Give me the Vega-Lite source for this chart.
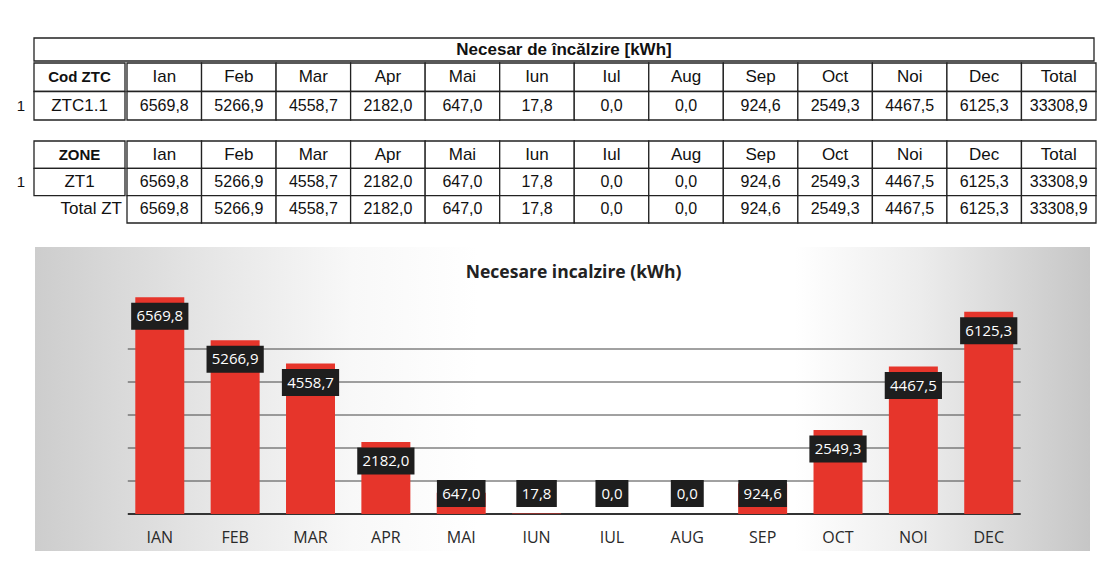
{
  "$schema": "https://vega.github.io/schema/vega-lite/v6.json",
  "padding": {"left": 9, "top": 37, "right": 16, "bottom": 17},
  "background": "white",
  "config": {
    "view": {"stroke": null},
    "locale": {"number": {"decimal": ",", "thousands": ".", "grouping": [3], "currency": ["", ""]}},
    "text": {"font": "Liberation Sans", "fontSize": 15, "color": "#111"}
  },
  "datasets": {
    "m": [
      {"k": "Ian", "v": 6569.8}, {"k": "Feb", "v": 5266.9}, {"k": "Mar", "v": 4558.7},
      {"k": "Apr", "v": 2182.0}, {"k": "Mai", "v": 647.0}, {"k": "Iun", "v": 17.8},
      {"k": "Iul", "v": 0.0}, {"k": "Aug", "v": 0.0}, {"k": "Sep", "v": 924.6},
      {"k": "Oct", "v": 2549.3}, {"k": "Noi", "v": 4467.5}, {"k": "Dec", "v": 6125.3},
      {"k": "Total", "v": 33308.9}
    ],
    "grid": [{"g": 1000}, {"g": 2000}, {"g": 3000}, {"g": 4000}, {"g": 5000}]
  },
  "spacing": 23,
  "vconcat": [
    {
      "spacing": 19,
      "vconcat": [
        {
          "spacing": 0,
          "vconcat": [
            {
              "spacing": 0,
              "hconcat": [
                {"width": 24, "height": 23, "data": {"values": []}, "mark": "point"},
                {
                  "width": 1060, "height": 23,
                  "data": {"values": [{"t": "Necesar de încălzire [kWh]"}]},
                  "encoding": {
                    "x": {"datum": "c", "type": "nominal", "scale": {"domain": ["c"], "paddingInner": 0, "paddingOuter": 0}, "axis": null},
                    "y": {"datum": "r", "type": "nominal", "scale": {"domain": ["r"], "paddingInner": 0, "paddingOuter": 0}, "axis": null}
                  },
                  "layer": [
                    {"mark": {"type": "rect", "fill": "white", "stroke": "#222", "strokeWidth": 1.3}},
                    {"mark": {"type": "text", "fontWeight": "bold", "fontSize": 17}, "encoding": {"text": {"field": "t"}}}
                  ]
                }
              ]
            },
            {
              "spacing": 0,
              "hconcat": [
                {
                  "width": 24, "height": 57,
                  "data": {"values": [{"n": "1"}]},
                  "mark": {"type": "text"},
                  "encoding": {
                    "x": {"datum": "c", "type": "nominal", "bandPosition": 0.75, "scale": {"domain": ["c"], "paddingInner": 0, "paddingOuter": 0}, "axis": null},
                    "y": {"datum": "d", "type": "nominal", "scale": {"domain": ["h", "d"], "paddingInner": 0, "paddingOuter": 0}, "axis": null},
                    "text": {"field": "n"}
                  }
                },
                {
                  "width": 91, "height": 57,
                  "data": {"values": [{"a": "Cod ZTC", "b": "ZTC1.1"}]},
                  "encoding": {
                    "x": {"datum": "c", "type": "nominal", "scale": {"domain": ["c"], "paddingInner": 0, "paddingOuter": 0}, "axis": null}
                  },
                  "layer": [
                    {"mark": {"type": "rect", "fill": "white", "stroke": "#222", "strokeWidth": 1.3},
                     "encoding": {"y": {"datum": "h", "type": "nominal", "scale": {"domain": ["h", "d"], "paddingInner": 0, "paddingOuter": 0}, "axis": null}}},
                    {"mark": {"type": "rect", "fill": "white", "stroke": "#222", "strokeWidth": 1.3},
                     "encoding": {"y": {"datum": "d", "type": "nominal", "axis": null}}},
                    {"mark": {"type": "text", "fontWeight": "bold"},
                     "encoding": {"y": {"datum": "h", "type": "nominal", "axis": null}, "text": {"field": "a"}}},
                    {"mark": {"type": "text", "fontSize": 17},
                     "encoding": {"y": {"datum": "d", "type": "nominal", "axis": null}, "text": {"field": "b"}}}
                  ]
                },
                {
                  "width": 969, "height": 57,
                  "data": {"name": "m"},
                  "encoding": {
                    "x": {"field": "k", "type": "nominal", "sort": null, "scale": {"paddingInner": 0, "paddingOuter": 0}, "axis": null}
                  },
                  "layer": [
                    {"mark": {"type": "rect", "fill": "white", "stroke": "#222", "strokeWidth": 1.3},
                     "encoding": {"y": {"datum": "h", "type": "nominal", "scale": {"domain": ["h", "d"], "paddingInner": 0, "paddingOuter": 0}, "axis": null}}},
                    {"mark": {"type": "rect", "fill": "white", "stroke": "#222", "strokeWidth": 1.3},
                     "encoding": {"y": {"datum": "d", "type": "nominal", "axis": null}}},
                    {"mark": {"type": "text", "fontSize": 17},
                     "encoding": {"y": {"datum": "h", "type": "nominal", "axis": null}, "text": {"field": "k"}}},
                    {"mark": {"type": "text", "fontSize": 16},
                     "encoding": {"y": {"datum": "d", "type": "nominal", "axis": null}, "text": {"field": "v", "type": "quantitative", "format": ".1f"}}}
                  ]
                }
              ]
            }
          ]
        },
        {
          "spacing": 0,
          "hconcat": [
            {
              "width": 24, "height": 82,
              "data": {"values": [{"n": "1"}]},
              "mark": {"type": "text"},
              "encoding": {
                "x": {"datum": "c", "type": "nominal", "bandPosition": 0.75, "scale": {"domain": ["c"], "paddingInner": 0, "paddingOuter": 0}, "axis": null},
                "y": {"datum": "z", "type": "nominal", "scale": {"domain": ["h", "z", "t"], "paddingInner": 0, "paddingOuter": 0}, "axis": null},
                "text": {"field": "n"}
              }
            },
            {
              "width": 91, "height": 82,
              "data": {"values": [{"a": "ZONE", "b": "ZT1", "c": "Total ZT"}]},
              "encoding": {
                "x": {"datum": "c", "type": "nominal", "scale": {"domain": ["c"], "paddingInner": 0, "paddingOuter": 0}, "axis": null}
              },
              "layer": [
                {"mark": {"type": "rect", "fill": "white", "stroke": "#222", "strokeWidth": 1.3},
                 "encoding": {"y": {"datum": "h", "type": "nominal", "scale": {"domain": ["h", "z", "t"], "paddingInner": 0, "paddingOuter": 0}, "axis": null}}},
                {"mark": {"type": "rect", "fill": "white", "stroke": "#222", "strokeWidth": 1.3},
                 "encoding": {"y": {"datum": "z", "type": "nominal", "axis": null}}},
                {"mark": {"type": "text", "fontWeight": "bold"},
                 "encoding": {"y": {"datum": "h", "type": "nominal", "axis": null}, "text": {"field": "a"}}},
                {"mark": {"type": "text", "fontSize": 17},
                 "encoding": {"y": {"datum": "z", "type": "nominal", "axis": null}, "text": {"field": "b"}}},
                {"mark": {"type": "text", "align": "right", "dx": -3, "fontSize": 17},
                 "encoding": {"x": {"datum": "c", "type": "nominal", "bandPosition": 1, "axis": null}, "y": {"datum": "t", "type": "nominal", "axis": null}, "text": {"field": "c"}}}
              ]
            },
            {
              "width": 969, "height": 82,
              "data": {"name": "m"},
              "encoding": {
                "x": {"field": "k", "type": "nominal", "sort": null, "scale": {"paddingInner": 0, "paddingOuter": 0}, "axis": null}
              },
              "layer": [
                {"mark": {"type": "rect", "fill": "white", "stroke": "#222", "strokeWidth": 1.3},
                 "encoding": {"y": {"datum": "h", "type": "nominal", "scale": {"domain": ["h", "z", "t"], "paddingInner": 0, "paddingOuter": 0}, "axis": null}}},
                {"mark": {"type": "rect", "fill": "white", "stroke": "#222", "strokeWidth": 1.3},
                 "encoding": {"y": {"datum": "z", "type": "nominal", "axis": null}}},
                {"mark": {"type": "rect", "fill": "white", "stroke": "#222", "strokeWidth": 1.3},
                 "encoding": {"y": {"datum": "t", "type": "nominal", "axis": null}}},
                {"mark": {"type": "text", "fontSize": 17},
                 "encoding": {"y": {"datum": "h", "type": "nominal", "axis": null}, "text": {"field": "k"}}},
                {"mark": {"type": "text", "fontSize": 16},
                 "encoding": {"y": {"datum": "z", "type": "nominal", "axis": null}, "text": {"field": "v", "type": "quantitative", "format": ".1f"}}},
                {"mark": {"type": "text", "fontSize": 16},
                 "encoding": {"y": {"datum": "t", "type": "nominal", "axis": null}, "text": {"field": "v", "type": "quantitative", "format": ".1f"}}}
              ]
            }
          ]
        }
      ]
    },
    {
      "spacing": 0,
      "hconcat": [
        {"width": 26, "height": 304, "data": {"values": []}, "mark": "point"},
        {
          "width": 1055, "height": 304,
          "data": {"name": "m"},
          "transform": [{"filter": "datum.k != 'Total'"}],
          "layer": [
            {
              "data": {"values": [{}]},
              "mark": {"type": "rect", "fill": {"gradient": "linear", "x1": 0, "x2": 1, "y1": 0, "y2": 0, "stops": [
                {"offset": 0, "color": "#cdcdcd"}, {"offset": 0.18, "color": "#e8e8e8"}, {"offset": 0.3, "color": "#f8f8f8"},
                {"offset": 0.42, "color": "#ffffff"}, {"offset": 0.72, "color": "#ffffff"}, {"offset": 0.84, "color": "#ececec"},
                {"offset": 1, "color": "#c6c6c6"}]}},
              "encoding": {}
            },
            {
              "data": {"name": "grid"},
              "mark": {"type": "rule", "color": "#444", "strokeWidth": 1, "xOffset": -32, "x2Offset": 32},
              "encoding": {
                "x": {"datum": "Ian", "type": "nominal",
                      "scale": {"domain": ["Ian", "Feb", "Mar", "Apr", "Mai", "Iun", "Iul", "Aug", "Sep", "Oct", "Noi", "Dec"], "paddingInner": 0, "paddingOuter": 1, "align": 0.578},
                      "axis": {"title": null, "domain": false, "ticks": false, "grid": false, "zindex": 2, "labelExpr": "upper(datum.label)", "labelAngle": 0, "labelFont": "Open Sans", "labelFontSize": 16, "labelColor": "#2a2a2a", "offset": -37, "labelPadding": 15}},
                "x2": {"datum": "Dec"},
                "y": {"field": "g", "type": "quantitative", "axis": null, "scale": {"domain": [-1121, 8091], "nice": false, "zero": false}}
              }
            },
            {
              "data": {"values": [{}]},
              "mark": {"type": "rule", "color": "#333", "strokeWidth": 2, "xOffset": -32, "x2Offset": 32},
              "encoding": {
                "x": {"datum": "Ian", "type": "nominal", "axis": {"title": null}},
                "x2": {"datum": "Dec"},
                "y": {"datum": 0, "type": "quantitative", "axis": null}
              }
            },
            {
              "mark": {"type": "bar", "color": "#e6352b", "width": {"band": 0.65}},
              "encoding": {
                "x": {"field": "k", "type": "nominal", "sort": null, "axis": {"title": null}},
                "y": {"field": "v", "type": "quantitative", "axis": null}
              }
            },
            {
              "transform": [{"filter": "datum.v >= 1212"}],
              "mark": {"type": "point", "filled": true, "opacity": 1, "color": "#1e1e1e", "size": 729},
              "encoding": {
                "x": {"field": "k", "type": "nominal", "sort": null, "axis": {"title": null}},
                "y": {"field": "v", "type": "quantitative", "axis": null},
                "yOffset": {"value": 19},
                "shape": {"condition": [
                  {"test": "datum.v >= 1000", "value": "M-2.12,-1H2.12V1H-2.12Z"},
                  {"test": "datum.v >= 100", "value": "M-1.8,-1H1.8V1H-1.8Z"},
                  {"test": "datum.v >= 10", "value": "M-1.5,-1H1.5V1H-1.5Z"}],
                  "value": "M-1.22,-1H1.22V1H-1.22Z"}
              }
            },
            {
              "transform": [{"filter": "datum.v < 1212"}],
              "mark": {"type": "point", "filled": true, "opacity": 1, "color": "#1e1e1e", "size": 729},
              "encoding": {
                "x": {"field": "k", "type": "nominal", "sort": null, "axis": {"title": null}},
                "y": {"datum": 0, "type": "quantitative", "axis": null},
                "yOffset": {"value": -20.5},
                "shape": {"condition": [
                  {"test": "datum.v >= 1000", "value": "M-2.12,-1H2.12V1H-2.12Z"},
                  {"test": "datum.v >= 100", "value": "M-1.8,-1H1.8V1H-1.8Z"},
                  {"test": "datum.v >= 10", "value": "M-1.5,-1H1.5V1H-1.5Z"}],
                  "value": "M-1.22,-1H1.22V1H-1.22Z"}
              }
            },
            {
              "transform": [{"filter": "datum.v >= 1212"}],
              "mark": {"type": "text", "font": "Open Sans", "fontSize": 15, "color": "white", "dy": 19},
              "encoding": {
                "x": {"field": "k", "type": "nominal", "sort": null, "axis": {"title": null}},
                "y": {"field": "v", "type": "quantitative", "axis": null},
                "text": {"field": "v", "type": "quantitative", "format": ".1f"}
              }
            },
            {
              "transform": [{"filter": "datum.v < 1212"}],
              "mark": {"type": "text", "font": "Open Sans", "fontSize": 15, "color": "white", "dy": -20.5},
              "encoding": {
                "x": {"field": "k", "type": "nominal", "sort": null, "axis": {"title": null}},
                "y": {"datum": 0, "type": "quantitative", "axis": null},
                "text": {"field": "v", "type": "quantitative", "format": ".1f"}
              }
            },
            {
              "data": {"values": [{"t": "Necesare incalzire (kWh)"}]},
              "mark": {"type": "text", "font": "Open Sans", "fontSize": 17.5, "fontWeight": "bold", "color": "#222", "dx": 37},
              "encoding": {
                "x": {"datum": "Iun", "type": "nominal", "axis": {"title": null}},
                "y": {"datum": 7303, "type": "quantitative", "axis": null},
                "text": {"field": "t"}
              }
            }
          ]
        }
      ]
    }
  ]
}
